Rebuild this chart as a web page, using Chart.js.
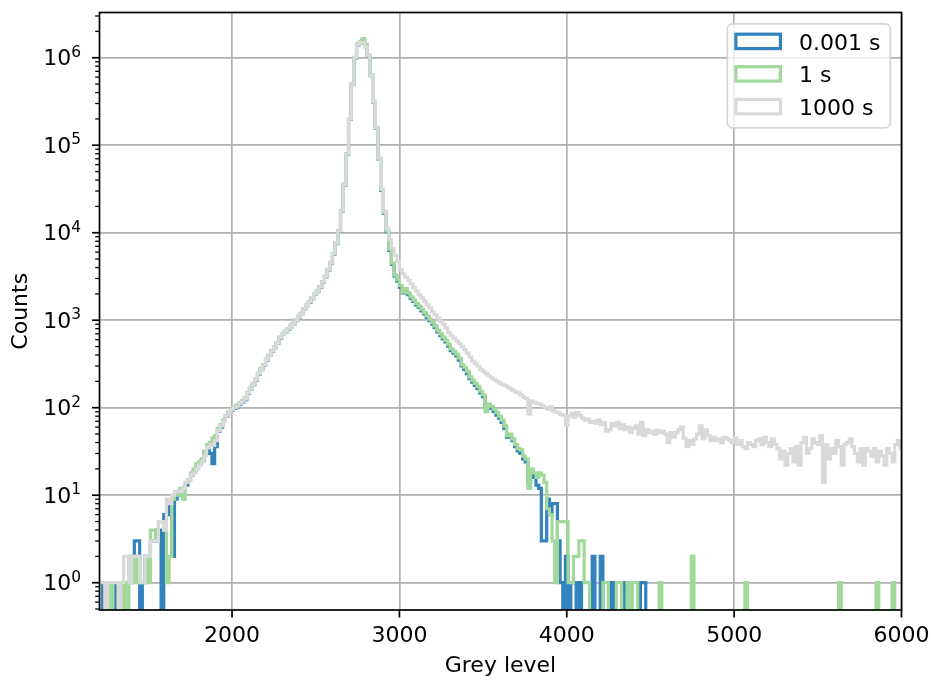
<!DOCTYPE html>
<html>
<head>
<meta charset="utf-8">
<script src="https://cdn.jsdelivr.net/npm/chart.js@4.4.0/dist/chart.umd.min.js"></script>
<style>
html, body { margin: 0; padding: 0; background: #ffffff; }
#wrap { width: 931px; height: 680px; position: relative; }
</style>
</head>
<body>
<div id="wrap"><canvas id="c" width="931" height="680"></canvas></div>
<script>
// ---- histogram binning (grey levels) ----
const BIN_START = 1208;
const BIN_WIDTH = 16;

// ---- series labels ----
const seriesLabels = ['0.001 s', '1 s', '1000 s'];

// ---- counts per bin (300 bins, 1208 .. 6008) ----
const counts_0001s = [
  1,0,0,0,0,1,0,1,0,1,
  1,1,2,3,3,0,1,2,2,3,
  3,4,4,0,6,6,8,2,9,10,
  11,12,13,15,17,19,21,23,25,30,
  33,30,23,36,54,60,70,80,88,94,
  98,102,110,116,124,146,164,184,206,242,
  272,306,350,395,443,486,546,625,702,735,
  786,843,905,990,1090,1190,1340,1470,1600,1760,
  1980,2120,2380,2720,3130,3760,4520,5700,7500,10400,
  17600,35000,78500,198000,495000,990000,1400000,1480000,1560000,1360000,
  1040000,625000,312000,156000,70000,30500,16600,10300,6300,4350,
  3200,2800,2380,2050,2200,1960,1780,1640,1500,1400,
  1280,1180,1080,990,900,830,735,670,610,565,
  505,450,420,390,350,300,275,245,215,196,
  180,165,148,134,100,104,98,90,82,76,
  68,58,46,46,42,36,32,30,26,24,
  14,18,16,13,12,3,3,9,6,8,
  8,3,1,0,2,0,1,1,0,1,
  0,0,0,0,2,0,0,2,0,0,
  0,1,0,0,0,1,0,0,0,0,
  0,0,1,1,0,0,0,0,0,0,
  0,0,0,0,0,0,0,0,0,0,
  0,0,0,0,0,0,0,0,0,0,
  0,0,0,0,0,0,0,0,0,0,
  0,0,0,0,0,0,0,0,0,0,
  0,0,0,0,0,0,0,0,0,0,
  0,0,0,0,0,0,0,0,0,0,
  0,0,0,0,0,0,0,0,0,0,
  0,0,0,0,0,0,0,0,0,0,
  0,0,0,0,0,0,0,0,0,0
];
const counts_1s = [
  0,0,0,0,1,0,0,1,0,1,
  0,2,2,1,2,1,1,2,1,4,
  4,3,5,5,4,1,2,9,11,10,
  12,9,14,15,18,20,23,24,26,32,
  38,40,45,48,58,64,72,80,90,96,
  102,108,114,120,130,150,168,190,212,248,
  280,312,360,400,452,495,556,640,700,750,
  800,860,920,1010,1110,1210,1360,1490,1640,1800,
  2010,2160,2420,2770,3180,3820,4600,5800,7650,10600,
  18000,36000,80000,202000,505000,1010000,1440000,1520000,1660000,1420000,
  1080000,640000,320000,160000,71000,31000,17000,10500,6500,4500,
  3300,2900,2500,2100,2300,2050,1850,1700,1560,1450,
  1330,1220,1120,1030,940,860,760,700,640,590,
  530,470,440,410,370,310,290,260,225,205,
  190,175,155,140,90,110,104,96,88,80,
  72,62,48,50,44,38,34,33,28,26,
  12,20,18,16,18,17,14,7,6,3,
  1,5,5,5,5,1,1,2,2,3,
  3,1,1,0,0,0,0,0,1,1,
  0,0,0,1,1,0,0,1,0,1,
  1,0,0,0,0,0,0,0,0,1,
  0,0,0,0,0,0,0,0,0,0,
  0,2,0,0,0,0,0,0,0,0,
  0,0,0,0,0,0,0,0,0,0,
  0,1,0,0,0,0,0,0,0,0,
  0,0,0,0,0,0,0,0,0,0,
  0,0,0,0,0,0,0,0,0,0,
  0,0,0,0,0,0,1,0,0,0,
  0,0,0,0,0,0,0,0,0,0,
  1,0,0,0,0,0,1,0,0,0
];
const counts_1000s = [
  1,1,0,1,1,1,1,0,1,2,
  2,1,2,2,2,1,1,2,2,3,
  3,3,5,5,4,9,8,10,11,11,
  11,12,14,15,17,18,20,22,24,28,
  35,38,37,42,55,62,70,82,88,95,
  100,104,112,117,126,148,166,186,209,245,
  275,309,355,398,447,490,550,631,708,741,
  794,851,912,1000,1100,1200,1350,1480,1620,1780,
  2000,2140,2400,2750,3160,3800,4570,5750,7590,10500,
  17800,35500,79400,200000,500000,1000000,1420000,1500000,1500000,1320000,
  1050000,630000,316000,158000,71000,31600,17800,11200,8300,6600,
  5500,4700,3800,3400,3100,2850,2600,2350,2150,1950,
  1800,1650,1500,1380,1250,1150,1060,970,900,820,
  720,660,620,580,540,500,460,420,380,340,
  320,300,275,260,245,232,220,210,200,192,
  185,180,172,165,158,152,148,140,132,128,
  85,120,115,112,110,105,100,96,102,92,
  90,88,84,82,63,80,86,78,88,82,
  76,72,74,68,70,66,72,64,68,54,
  56,66,62,68,58,64,56,60,52,58,
  62,50,68,48,56,52,54,50,55,52,
  54,50,40,52,46,52,56,60,45,36,
  42,38,44,50,62,44,56,48,42,46,
  42,44,40,46,44,42,40,45,38,42,
  36,34,40,38,36,42,44,38,46,40,
  36,44,38,34,26,32,22,30,34,24,
  36,22,40,46,30,34,44,40,38,48,
  14,38,26,34,30,42,36,22,38,40,
  44,36,30,24,34,22,34,32,28,34,
  24,32,28,22,34,30,24,38,42,34
];

// ---- axes ----
const xTickValues = [2000, 3000, 4000, 5000, 6000];
const xTickLabels = ['2000', '3000', '4000', '5000', '6000'];
const yMajorExponents = [0, 1, 2, 3, 4, 5, 6];
const yMajorBase = '10';
const yMajorSup = ['0', '1', '2', '3', '4', '5', '6'];
const X_MIN = 1208, X_MAX = 6000;
const Y_MIN = 0.4876, Y_MAX = 3.29e6;
const xTitle = 'Grey level';
const yTitle = 'Counts';

const colors = ['#3182bd', '#a1d99b', '#d9d9d9'];
const FONT = 'DejaVu Sans';
const FS = 22;
const ZERO_FLOOR = 1e-3; // zero-count bins drop below the axis

function histPoints(counts) {
  const pts = [{ x: BIN_START, y: ZERO_FLOOR }];
  for (let i = 0; i < counts.length; i++) {
    pts.push({ x: BIN_START + BIN_WIDTH * i, y: counts[i] > 0 ? counts[i] : ZERO_FLOOR });
  }
  pts.push({ x: BIN_START + BIN_WIDTH * counts.length, y: ZERO_FLOOR });
  return pts;
}

const allCounts = [counts_0001s, counts_1s, counts_1000s];
const drawOrder = [2, 1, 0]; // 1000 s on top

Chart.defaults.font.family = FONT;
Chart.defaults.color = '#000000';

const decor = {
  id: 'decor',
  afterDraw(chart) {
    const { ctx, chartArea: a, scales: { x, y } } = chart;
    ctx.save();
    ctx.strokeStyle = '#000000';
    ctx.lineCap = 'butt';
    // y ticks (major + minor)
    y.ticks.forEach(t => {
      const py = y.getPixelForValue(t.value);
      ctx.lineWidth = t.major ? 1.7 : 1.3;
      const len = t.major ? 7.5 : 4.3;
      ctx.beginPath(); ctx.moveTo(a.left - len, py); ctx.lineTo(a.left, py); ctx.stroke();
    });
    // y tick labels: 10 with superscript exponent
    ctx.fillStyle = '#000000';
    ctx.textBaseline = 'alphabetic';
    ctx.textAlign = 'left';
    const supFS = FS * 0.7;
    yMajorExponents.forEach((e, i) => {
      const py = y.getPixelForValue(Math.pow(10, e));
      ctx.font = FS + 'px "' + FONT + '"';
      const wb = ctx.measureText(yMajorBase).width;
      ctx.font = supFS + 'px "' + FONT + '"';
      const ws = ctx.measureText(yMajorSup[i]).width;
      const x0 = a.left - 18.5 - wb - ws;
      ctx.font = FS + 'px "' + FONT + '"';
      ctx.fillText(yMajorBase, x0, py + 7.6);
      ctx.font = supFS + 'px "' + FONT + '"';
      ctx.fillText(yMajorSup[i], x0 + wb, py - 1.0);
    });
    // x ticks
    ctx.lineWidth = 1.7;
    xTickValues.forEach(v => {
      const px = x.getPixelForValue(v);
      ctx.beginPath(); ctx.moveTo(px, a.bottom); ctx.lineTo(px, a.bottom + 7.5); ctx.stroke();
    });
    // spines
    ctx.lineWidth = 1.7;
    ctx.strokeRect(a.left, a.top, a.right - a.left, a.bottom - a.top);

    // legend
    const lx = 727.3, ly = 23.8, lw = 163, lh = 104, r = 5;
    ctx.beginPath();
    ctx.moveTo(lx + r, ly);
    ctx.lineTo(lx + lw - r, ly); ctx.arcTo(lx + lw, ly, lx + lw, ly + r, r);
    ctx.lineTo(lx + lw, ly + lh - r); ctx.arcTo(lx + lw, ly + lh, lx + lw - r, ly + lh, r);
    ctx.lineTo(lx + r, ly + lh); ctx.arcTo(lx, ly + lh, lx, ly + lh - r, r);
    ctx.lineTo(lx, ly + r); ctx.arcTo(lx, ly, lx + r, ly, r);
    ctx.closePath();
    ctx.fillStyle = 'rgba(255,255,255,0.8)';
    ctx.fill();
    ctx.strokeStyle = 'rgba(204,204,204,0.8)';
    ctx.lineWidth = 1.7;
    ctx.stroke();
    const rowMid = [41.4, 73.9, 106.6];
    const rowBase = [49.6, 82.3, 115.0];
    ctx.font = FS + 'px "' + FONT + '"';
    ctx.textAlign = 'left';
    ctx.textBaseline = 'alphabetic';
    for (let i = 0; i < 3; i++) {
      ctx.strokeStyle = colors[i];
      ctx.lineWidth = 3.2;
      ctx.lineJoin = 'miter';
      ctx.strokeRect(735.9, rowMid[i] - 7.2, 44.5, 14.4);
      ctx.fillStyle = '#000000';
      ctx.fillText(seriesLabels[i], 799, rowBase[i]);
    }
    ctx.restore();
  }
};

const datasets = allCounts.map((c, i) => ({
  label: seriesLabels[i],
  data: histPoints(c),
  borderColor: colors[i],
  backgroundColor: colors[i],
  borderWidth: 3.2,
  pointRadius: 0,
  pointHoverRadius: 0,
  fill: false,
  stepped: 'before',
  tension: 0,
  clip: 0,
  order: drawOrder[i],
  borderJoinStyle: 'miter'
}));

new Chart(document.getElementById('c'), {
  type: 'line',
  data: { datasets },
  options: {
    responsive: false,
    animation: false,
    devicePixelRatio: 1,
    events: [],
    parsing: false,
    layout: { padding: { left: 0, right: 29.5, top: 12.5, bottom: 0 } },
    plugins: { legend: { display: false }, tooltip: { enabled: false } },
    scales: {
      x: {
        type: 'linear',
        position: 'bottom',
        min: X_MIN, max: X_MAX,
        z: 1,
        afterBuildTicks: (s) => { s.ticks = xTickValues.map(v => ({ value: v })); },
        afterFit: (s) => { s.height = 70; s.paddingLeft = 0; s.paddingRight = 0; },
        ticks: {
          autoSkip: false, maxRotation: 0, padding: 13.2,
          font: { size: FS, family: FONT }, color: '#000000',
          callback: (v) => { const i = xTickValues.indexOf(v); return i >= 0 ? xTickLabels[i] : ''; }
        },
        grid: { color: '#b0b0b0', lineWidth: 1.7, drawTicks: false },
        border: { display: false },
        title: { display: true, text: xTitle, font: { size: FS, family: FONT }, color: '#000000', padding: { top: 0, bottom: 0.4 } }
      },
      y: {
        type: 'logarithmic',
        position: 'left',
        min: Y_MIN, max: Y_MAX,
        z: 1,
        afterBuildTicks: (s) => {
          const t = [];
          for (let e = -1; e <= 6; e++) {
            for (let m = 1; m <= 9; m++) {
              const v = m * Math.pow(10, e);
              if (v >= Y_MIN && v <= Y_MAX) t.push({ value: v, major: m === 1 });
            }
          }
          s.ticks = t;
        },
        afterFit: (s) => { s.width = 99.5; s.paddingTop = 0; s.paddingBottom = 0; },
        ticks: {
          autoSkip: false, padding: 19.5,
          font: { size: FS, family: FONT }, color: '#000000',
          callback: () => ''
        },
        grid: {
          lineWidth: 1.7, drawTicks: false,
          color: (c) => (c.tick && c.tick.major) ? '#b0b0b0' : 'rgba(0,0,0,0)'
        },
        border: { display: false },
        title: { display: true, text: yTitle, font: { size: FS, family: FONT }, color: '#000000', padding: { top: 8.5, bottom: 0 } }
      }
    }
  },
  plugins: [decor]
});
</script>
</body>
</html>
